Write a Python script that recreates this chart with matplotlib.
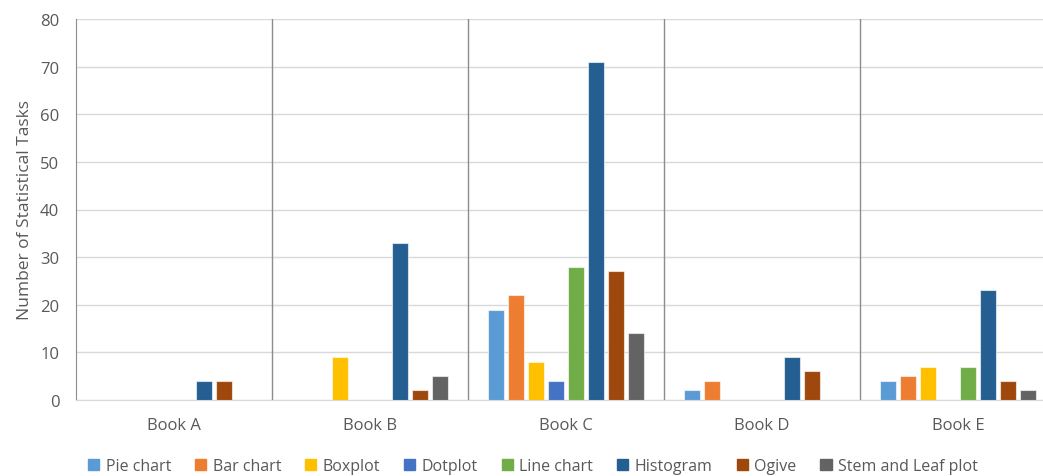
import matplotlib
matplotlib.use("Agg")
import matplotlib.pyplot as plt
import numpy as np

books = ["Book A", "Book B", "Book C", "Book D", "Book E"]
series = ["Pie chart", "Bar chart", "Boxplot", "Dotplot", "Line chart", "Histogram", "Ogive", "Stem and Leaf plot"]
pie_chart = [0, 0, 19, 2, 4]
bar_chart = [0, 0, 22, 4, 5]
boxplot = [0, 9, 8, 0, 7]
dotplot = [0, 0, 4, 0, 0]
line_chart = [0, 0, 28, 0, 7]
histogram = [4, 33, 71, 9, 23]
ogive = [4, 2, 27, 6, 4]
stem_leaf = [0, 5, 14, 0, 2]
values = [pie_chart, bar_chart, boxplot, dotplot, line_chart, histogram, ogive, stem_leaf]
colors = ["#5B9BD5", "#ED7D31", "#FFC000", "#4472C4", "#70AD47", "#255E91", "#9E480E", "#636363"]

plt.rcParams['font.family'] = ['Open Sans', 'DejaVu Sans']
fig = plt.figure(figsize=(10.43, 4.77), dpi=100)
ax = fig.add_axes([76/1043, 1-401/477, 980/1043, 381/477])

x = np.arange(len(books))
slot = 20/196
bw = 16/196
for i, (name, vals, c) in enumerate(zip(series, values, colors)):
    offs = (i - 3.5) * slot
    ax.bar(x + offs, vals, width=bw, color=c, edgecolor=(1, 1, 1, 0.6), linewidth=0.8, label=name, zorder=3)

ax.set_xlim(-0.5, 4.5)
ax.set_ylim(0, 80)
ax.set_yticks(range(0, 81, 10))
ax.set_xticks(x)
ax.set_xticklabels(books)
ax.yaxis.grid(True, color="#D9D9D9", linewidth=1.0, zorder=0)
ax.set_axisbelow(True)
for b in np.arange(0.5, 4.5, 1):
    ax.axvline(b, color="#8C8C8C", linewidth=1.0, zorder=1)
for s in ["top", "right"]:
    ax.spines[s].set_visible(False)
ax.spines["left"].set_color("#8C8C8C")
ax.spines["bottom"].set_color("#D9D9D9")
ax.tick_params(axis="both", length=0, labelsize=12, colors="#595959")
ax.tick_params(axis="x", pad=12)
ax.tick_params(axis="y", pad=12)
ax.set_ylabel("Number of Statistical Tasks", fontsize=12.5, color="#595959", labelpad=5)

handles = [plt.Rectangle((0, 0), 1, 1, color=c) for c in colors]
fig.legend(handles, series, loc="center", bbox_to_anchor=(533/1043, 1-467/477), ncol=8, frameon=False,
           fontsize=11.5, labelcolor="#595959", handlelength=0.7, handleheight=0.7, handletextpad=0.4, columnspacing=1.5)

fig.savefig("out.png", dpi=100)
